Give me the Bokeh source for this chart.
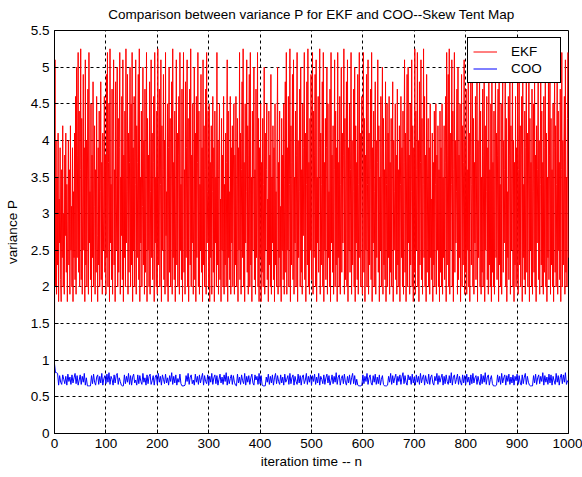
from bokeh.plotting import figure
from bokeh.models import (Range1d, FixedTicker, NumeralTickFormatter, Legend, LegendItem)
from bokeh.embed import file_html
from bokeh.resources import INLINE

# ---------------- data ----------------
# EKF variance, one value per iteration n = 0 .. 1000
ekf_values = [
    1.2, 5.1, 2.0, 4.0, 1.9, 3.5, 2.3, 4.1, 1.8, 3.2, 2.6, 3.9, 2.1, 1.8, 3.6, 2.4, 4.2, 2.0, 3.0, 1.9, 3.8, 2.7, 4.1, 2.2, 3.4, 1.8, 2.9, 4.0, 2.3, 3.6, 1.9, 4.2, 2.5, 3.1, 2.0, 3.9, 1.8, 3.3, 2.4, 4.1, 2.1, 4.6, 1.9, 5.0, 2.4, 3.8, 5.2, 2.2, 4.4, 2.0,
    3.6, 5.25, 2.1, 4.3, 1.9, 3.2, 4.9, 2.5, 3.9, 1.8, 5.1, 2.3, 4.0, 2.0, 3.5, 4.7, 1.9, 5.2, 2.6, 3.3, 2.1, 4.5, 1.8, 3.8, 2.4, 4.8, 2.0, 3.1, 4.2, 1.9, 3.6, 2.2, 4.6, 2.7, 1.8, 3.9, 2.3, 4.4, 2.0, 3.3, 4.8, 2.1, 3.7, 1.9, 4.1, 2.5, 3.0, 4.6, 2.2, 3.8,
    1.9, 4.9, 2.4, 5.2, 2.0, 3.7, 4.5, 1.8, 5.25, 2.6, 3.4, 2.1, 4.7, 1.9, 4.0, 5.1, 2.3, 3.6, 1.8, 4.8, 2.5, 3.2, 5.0, 2.0, 4.3, 2.2, 3.9, 5.2, 1.9, 3.5, 2.7, 4.6, 2.1, 5.1, 1.8, 3.8, 2.4, 4.4, 2.0, 5.25, 2.6, 3.3, 4.9, 1.9, 4.1, 2.2, 3.7, 5.0, 2.0, 4.5,
    2.3, 5.2, 1.8, 3.9, 2.5, 4.6, 2.0, 3.4, 5.1, 1.9, 4.2, 2.4, 3.7, 4.9, 2.1, 5.25, 1.8, 3.5, 2.6, 4.4, 2.0, 3.1, 5.0, 2.3, 4.0, 1.9, 4.7, 2.2, 3.6, 5.2, 1.8, 4.3, 2.5, 3.8, 2.0, 4.8, 1.9, 3.3, 5.1, 2.4, 4.1, 2.1, 3.7, 4.6, 1.8, 5.2, 2.6, 3.5, 2.0, 4.4,
    1.9, 5.25, 2.3, 3.8, 4.7, 2.0, 3.4, 5.1, 1.8, 4.2, 2.5, 3.6, 4.9, 2.1, 4.0, 1.9, 5.2, 2.7, 3.3, 2.0, 4.5, 1.8, 3.9, 5.0, 2.2, 4.3, 2.0, 3.5, 4.8, 1.9, 5.25, 2.4, 3.7, 2.1, 4.4, 1.8, 3.2, 5.1, 2.3, 4.1, 2.0, 3.8, 4.6, 1.9, 5.2, 2.5, 3.4, 2.1, 4.7, 1.8,
    4.0, 5.2, 2.2, 3.6, 1.9, 4.8, 2.4, 3.9, 5.1, 2.0, 4.3, 1.8, 3.5, 4.7, 2.3, 5.25, 2.0, 3.8, 2.6, 4.5, 1.9, 3.2, 5.0, 2.1, 4.1, 1.8, 4.6, 2.4, 3.7, 5.2, 2.0, 4.4, 1.9, 3.4, 2.5, 4.9, 2.2, 3.9, 1.8, 5.1, 2.3, 4.2, 2.0, 3.6, 4.7, 1.9, 5.2, 2.6, 3.3, 4.4,
    2.0, 4.5, 1.8, 3.7, 2.4, 4.2, 1.9, 3.3, 4.6, 2.2, 3.9, 1.8, 4.4, 2.6, 3.5, 2.0, 5.2, 2.3, 4.0, 1.9, 3.6, 4.5, 2.1, 3.2, 1.8, 4.3, 2.5, 3.8, 2.0, 4.6, 1.9, 3.4, 2.3, 4.1, 2.0, 3.7, 5.1, 1.8, 4.4, 2.4, 3.3, 2.1, 4.6, 1.9, 3.9, 2.6, 4.2, 2.0, 3.5, 4.5,
    1.9, 3.8, 2.3, 4.6, 2.0, 3.4, 4.3, 1.8, 3.9, 2.5, 5.2, 2.1, 4.1, 1.9, 3.6, 4.8, 2.4, 5.25, 2.0, 3.7, 1.8, 4.5, 2.6, 3.3, 5.1, 2.2, 4.2, 1.9, 3.8, 4.9, 2.0, 5.2, 2.3, 3.5, 1.8, 4.4, 2.5, 4.0, 5.0, 2.1, 3.6, 1.9, 4.7, 2.4, 3.2, 5.2, 2.0, 4.3, 1.8, 3.9,
    2.4, 4.5, 1.8, 3.7, 2.2, 4.3, 2.0, 3.4, 5.0, 1.9, 4.1, 2.5, 3.6, 4.5, 2.1, 3.2, 1.8, 4.4, 2.3, 3.8, 2.0, 4.9, 1.9, 3.5, 2.6, 4.2, 2.1, 3.9, 1.8, 4.5, 2.3, 3.3, 2.0, 4.0, 5.0, 1.9, 3.7, 2.4, 4.4, 2.0, 3.1, 1.8, 4.3, 2.5, 3.8, 2.1, 4.5, 1.9, 3.5, 4.8,
    2.2, 5.2, 1.9, 3.9, 2.5, 4.6, 2.0, 3.4, 5.25, 1.8, 4.2, 2.3, 3.7, 4.9, 2.1, 5.1, 1.9, 3.5, 2.6, 4.4, 2.0, 3.8, 5.2, 1.8, 4.0, 2.4, 3.3, 4.7, 2.0, 5.0, 2.2, 3.6, 1.9, 4.5, 2.7, 3.9, 5.2, 2.1, 4.1, 1.8, 3.4, 4.8, 2.3, 5.25, 2.0, 3.7, 1.9, 4.3, 2.5, 4.9,
    2.1, 3.6, 5.2, 1.9, 4.4, 2.4, 3.8, 4.9, 2.0, 5.1, 1.8, 3.5, 2.6, 4.6, 2.2, 3.9, 5.25, 1.9, 4.1, 2.3, 3.4, 4.8, 2.0, 5.2, 1.8, 3.7, 2.5, 4.3, 2.1, 3.9, 5.0, 1.9, 4.5, 2.4, 3.3, 2.0, 4.7, 1.8, 5.2, 2.6, 3.8, 2.2, 4.2, 1.9, 3.6, 5.1, 2.0, 4.4, 2.3, 3.9,
    1.8, 5.2, 2.4, 3.7, 2.0, 4.6, 1.9, 3.4, 5.0, 2.2, 4.1, 2.6, 3.8, 5.25, 1.9, 4.3, 2.1, 3.5, 4.8, 2.0, 5.1, 1.8, 3.9, 2.5, 4.5, 2.2, 3.6, 5.2, 1.9, 4.0, 2.3, 3.3, 4.7, 2.0, 5.0, 1.8, 4.2, 2.6, 3.7, 2.1, 4.9, 1.9, 3.4, 5.2, 2.4, 4.1, 2.0, 3.8, 4.6, 1.9,
    3.5, 5.2, 2.2, 4.3, 1.8, 3.8, 2.5, 4.9, 2.0, 3.4, 5.1, 1.9, 4.1, 2.3, 3.6, 4.7, 2.1, 5.2, 1.8, 3.9, 2.6, 4.4, 2.0, 3.3, 4.8, 1.9, 4.0, 2.4, 3.7, 5.1, 2.2, 4.2, 1.8, 3.5, 2.5, 4.6, 2.0, 3.9, 5.0, 1.9, 4.3, 2.3, 3.6, 2.1, 4.8, 1.8, 3.4, 4.5, 2.0, 4.1,
    2.4, 4.6, 1.9, 3.7, 2.2, 4.3, 2.0, 3.5, 4.8, 1.8, 4.0, 2.5, 3.3, 4.5, 2.1, 3.8, 1.9, 4.7, 2.3, 3.6, 2.0, 4.2, 1.8, 3.4, 4.6, 2.4, 3.9, 2.0, 4.4, 1.9, 3.7, 5.1, 2.2, 4.1, 1.8, 3.5, 4.9, 2.0, 5.0, 2.6, 3.8, 1.9, 4.5, 2.3, 3.3, 5.1, 2.0, 4.2, 1.8, 3.9,
    2.2, 5.25, 1.9, 4.4, 2.5, 3.6, 5.2, 2.0, 4.0, 1.8, 4.8, 2.3, 3.7, 5.1, 2.1, 4.3, 1.9, 3.4, 5.25, 2.4, 4.6, 2.0, 3.8, 1.8, 4.9, 2.2, 3.5, 4.3, 2.0, 3.9, 1.9, 4.5, 2.4, 3.2, 2.1, 4.1, 1.8, 3.7, 2.3, 4.4, 2.0, 3.4, 4.5, 1.9, 3.8, 2.5, 4.2, 2.0, 3.6, 1.8,
    4.4, 2.2, 3.9, 2.0, 4.5, 1.9, 3.5, 2.4, 4.2, 2.1, 3.7, 4.6, 1.8, 5.2, 2.3, 3.8, 4.9, 2.0, 5.25, 1.9, 4.1, 2.5, 3.4, 5.1, 2.0, 4.4, 1.8, 3.6, 5.2, 2.2, 4.0, 2.6, 3.3, 4.7, 1.9, 5.0, 2.1, 3.8, 2.4, 4.5, 1.8, 3.5, 4.9, 2.0, 4.2, 2.3, 3.7, 5.1, 1.9, 4.0,
    2.2, 4.7, 1.9, 3.6, 2.5, 5.0, 2.0, 4.1, 1.8, 3.8, 4.8, 2.3, 3.4, 5.1, 2.0, 4.3, 1.9, 3.7, 2.6, 4.6, 2.1, 3.2, 4.9, 1.8, 4.0, 2.4, 3.9, 5.0, 2.0, 4.4, 1.9, 3.5, 2.2, 4.7, 2.0, 3.8, 5.1, 1.8, 4.2, 2.5, 3.3, 4.6, 2.1, 3.9, 1.9, 4.8, 2.3, 3.6, 2.0, 4.5,
    1.8, 4.9, 2.2, 3.7, 2.0, 4.4, 1.9, 3.5, 5.0, 2.4, 4.1, 2.1, 3.8, 4.7, 1.8, 5.1, 2.3, 3.4, 2.0, 4.5, 1.9, 3.9, 4.8, 2.2, 4.0, 2.6, 3.6, 5.0, 2.0, 4.3, 1.8, 3.3, 2.4, 4.6, 2.1, 3.8, 4.9, 1.9, 4.2, 2.5, 3.5, 5.1, 2.0, 4.0, 1.8, 3.7, 2.3, 4.6, 2.0, 3.9,
    2.1, 4.8, 1.9, 3.6, 5.1, 2.3, 4.2, 2.0, 3.8, 4.6, 1.8, 5.0, 2.4, 3.4, 2.1, 4.4, 1.9, 3.9, 4.9, 2.2, 4.1, 2.0, 3.5, 5.1, 1.8, 4.3, 2.5, 3.7, 2.0, 4.7, 1.9, 3.3, 4.5, 2.2, 5.0, 2.0, 3.8, 1.8, 4.2, 2.6, 3.6, 4.8, 2.1, 4.0, 1.9, 3.4, 5.0, 2.3, 4.4, 2.0,
    3.7, 1.9, 4.6, 2.2, 3.9, 5.0, 2.0, 4.1, 1.8, 3.5, 2.4, 4.8, 2.1, 3.8, 5.1, 1.9, 4.3, 2.3, 3.6, 2.0, 4.5, 1.8, 3.9, 4.9, 2.2, 4.2, 2.0, 3.4, 5.0, 1.9, 4.4, 2.5, 3.7, 2.1, 4.7, 1.8, 3.6, 5.2, 2.0, 4.0, 2.3, 3.8, 4.6, 1.9, 5.1, 2.2, 3.5, 2.0, 4.3, 5.2, 2.4,
]
ekf_n = list(range(len(ekf_values)))

# COO variance, one value every 2 iterations
coo_values = [
    0.95, 0.83, 0.83, 0.82, 0.66, 0.79, 0.70, 0.67, 0.80, 0.74, 0.68, 0.78, 0.66, 0.81, 0.71, 0.77, 0.67, 0.80, 0.69, 0.76, 0.82, 0.68, 0.79, 0.66, 0.73, 0.80, 0.67, 0.78, 0.70, 0.82, 0.66, 0.76, 0.65, 0.65, 0.65, 0.65, 0.79, 0.68, 0.81, 0.70, 0.66, 0.77, 0.80, 0.67, 0.78, 0.69, 0.82, 0.66, 0.75, 0.79,
    0.68, 0.81, 0.70, 0.83, 0.67, 0.78, 0.74, 0.66, 0.80, 0.69, 0.79, 0.82, 0.67, 0.76, 0.71, 0.66, 0.65, 0.65, 0.80, 0.68, 0.78, 0.70, 0.82, 0.67, 0.79, 0.66, 0.77, 0.81, 0.69, 0.73, 0.66, 0.80, 0.68, 0.79, 0.71, 0.67, 0.82, 0.70, 0.76, 0.66, 0.80, 0.68, 0.78, 0.81, 0.67, 0.72, 0.79, 0.66, 0.77, 0.80,
    0.67, 0.82, 0.70, 0.78, 0.66, 0.80, 0.74, 0.68, 0.81, 0.69, 0.76, 0.66, 0.79, 0.71, 0.83, 0.67, 0.78, 0.69, 0.80, 0.66, 0.75, 0.70, 0.81, 0.68, 0.65, 0.65, 0.65, 0.66, 0.79, 0.71, 0.82, 0.67, 0.77, 0.80, 0.68, 0.73, 0.66, 0.81, 0.70, 0.78, 0.67, 0.80, 0.69, 0.76, 0.82, 0.66, 0.79, 0.71, 0.68, 0.80,
    0.66, 0.78, 0.70, 0.82, 0.67, 0.76, 0.80, 0.68, 0.79, 0.66, 0.74, 0.81, 0.69, 0.77, 0.67, 0.80, 0.71, 0.83, 0.66, 0.78, 0.68, 0.75, 0.80, 0.67, 0.79, 0.70, 0.66, 0.65, 0.81, 0.69, 0.77, 0.67, 0.80, 0.72, 0.68, 0.82, 0.66, 0.78, 0.70, 0.79, 0.67, 0.76, 0.81, 0.69, 0.66, 0.80, 0.73, 0.78, 0.67, 0.82,
    0.68, 0.79, 0.66, 0.65, 0.65, 0.65, 0.77, 0.70, 0.81, 0.67, 0.78, 0.69, 0.80, 0.66, 0.76, 0.82, 0.68, 0.79, 0.71, 0.67, 0.80, 0.69, 0.77, 0.66, 0.81, 0.70, 0.74, 0.79, 0.67, 0.82, 0.68, 0.76, 0.80, 0.66, 0.78, 0.71, 0.67, 0.81, 0.69, 0.79, 0.66, 0.77, 0.80, 0.68, 0.73, 0.82, 0.67, 0.78, 0.70, 0.80,
    0.66, 0.79, 0.71, 0.81, 0.67, 0.77, 0.69, 0.82, 0.66, 0.78, 0.74, 0.68, 0.80, 0.67, 0.76, 0.81, 0.69, 0.79, 0.66, 0.72, 0.80, 0.68, 0.78, 0.70, 0.83, 0.67, 0.77, 0.80, 0.66, 0.75, 0.79, 0.68, 0.81, 0.70, 0.66, 0.78, 0.69, 0.80, 0.67, 0.76, 0.82, 0.68, 0.79, 0.66, 0.74, 0.66, 0.65, 0.65, 0.65, 0.66,
    0.80, 0.68, 0.78, 0.71, 0.82, 0.67, 0.76, 0.80, 0.69, 0.66, 0.79, 0.70, 0.81, 0.67, 0.77, 0.68, 0.80, 0.66, 0.74, 0.79, 0.67, 0.65, 0.65, 0.65, 0.66, 0.78, 0.70, 0.82, 0.67, 0.79, 0.69, 0.76, 0.81, 0.66, 0.78, 0.71, 0.80, 0.67, 0.77, 0.83, 0.68, 0.79, 0.70, 0.66, 0.80, 0.73, 0.78, 0.67, 0.81, 0.69,
    0.77, 0.66, 0.80, 0.70, 0.78, 0.67, 0.82, 0.69, 0.76, 0.80, 0.66, 0.79, 0.71, 0.68, 0.81, 0.67, 0.77, 0.80, 0.69, 0.66, 0.78, 0.72, 0.82, 0.67, 0.79, 0.70, 0.76, 0.81, 0.66, 0.78, 0.68, 0.80, 0.71, 0.67, 0.79, 0.69, 0.83, 0.66, 0.77, 0.80, 0.68, 0.74, 0.81, 0.67, 0.78, 0.70, 0.66, 0.80, 0.69, 0.79,
    0.67, 0.81, 0.70, 0.77, 0.66, 0.80, 0.68, 0.82, 0.69, 0.76, 0.79, 0.67, 0.78, 0.71, 0.66, 0.81, 0.68, 0.79, 0.70, 0.83, 0.67, 0.77, 0.80, 0.66, 0.74, 0.79, 0.68, 0.65, 0.65, 0.65, 0.66, 0.80, 0.70, 0.78, 0.67, 0.82, 0.69, 0.76, 0.80, 0.66, 0.79, 0.71, 0.81, 0.67, 0.77, 0.69, 0.80, 0.66, 0.78, 0.72,
    0.81, 0.67, 0.79, 0.70, 0.66, 0.80, 0.68, 0.77, 0.82, 0.67, 0.78, 0.70, 0.66, 0.65, 0.65, 0.65, 0.79, 0.69, 0.81, 0.67, 0.76, 0.80, 0.68, 0.78, 0.71, 0.83, 0.66, 0.79, 0.70, 0.77, 0.67, 0.81, 0.69, 0.80, 0.66, 0.78, 0.72, 0.67, 0.82, 0.70, 0.79, 0.66, 0.77, 0.81, 0.68, 0.80, 0.70, 0.83, 0.67, 0.72, 0.70,
]
coo_step = 2
coo_n = [coo_step * i for i in range(len(coo_values))]

x_ticks = [0, 100, 200, 300, 400, 500, 600, 700, 800, 900, 1000]
y_ticks = [0, 0.5, 1, 1.5, 2, 2.5, 3, 3.5, 4, 4.5, 5, 5.5]

title_text = "Comparison between variance P for EKF and COO--Skew Tent Map"
x_label = "iteration time -- n"
y_label = "variance P"
series_names = ["EKF", "COO"]
series_colors = ["#ff0000", "#0000ff"]

FONT = "Liberation Sans"
FS = "13.5px"

# ---------------- figure ----------------
p = figure(width=582, height=477, output_backend="svg", toolbar_location=None,
           x_range=Range1d(0, 1000), y_range=Range1d(0, 5.5),
           min_border_left=54, min_border_right=14, min_border_top=30, min_border_bottom=44,
           background_fill_color="white", border_fill_color="white")

p.title.text = title_text
p.title.align = "center"
p.title.text_font = FONT
p.title.text_font_size = FS
p.title.text_font_style = "normal"
p.title.text_color = "black"
p.title.offset = 0
p.title.standoff = 6
p.title.padding = (0, 0, 0, 6)

p.outline_line_color = "black"
p.outline_line_width = 1
p.outline_line_alpha = 1

for ax, ticks in ((p.xaxis[0], x_ticks), (p.yaxis[0], y_ticks)):
    ax.ticker = FixedTicker(ticks=ticks)
    ax.major_label_text_font = FONT
    ax.major_label_text_font_size = FS
    ax.major_label_text_color = "black"
    ax.axis_label_text_font = FONT
    ax.axis_label_text_font_size = FS
    ax.axis_label_text_font_style = "normal"
    ax.axis_label_text_color = "black"
    ax.axis_line_color = "black"
    ax.major_tick_line_color = "black"
    ax.major_tick_in = 4
    ax.major_tick_out = 0
    ax.minor_tick_line_color = None

p.yaxis[0].formatter = NumeralTickFormatter(format="0.[0]")
p.xaxis[0].axis_label = x_label
p.yaxis[0].axis_label = y_label
p.xaxis[0].major_label_standoff = 5
p.xaxis[0].axis_label_standoff = 3
p.yaxis[0].major_label_standoff = 5
p.yaxis[0].axis_label_standoff = 8

for g, ticks in ((p.xgrid[0], x_ticks), (p.ygrid[0], y_ticks)):
    g.ticker = FixedTicker(ticks=ticks)
    g.grid_line_color = "black"
    g.grid_line_alpha = 1
    g.grid_line_width = 1
    g.grid_line_dash = "3 3"

r_ekf = p.line(ekf_n, ekf_values, line_color=series_colors[0], line_width=1)
r_coo = p.line(coo_n, coo_values, line_color=series_colors[1], line_width=1)

legend = Legend(items=[LegendItem(label=series_names[0], renderers=[r_ekf]),
                       LegendItem(label=series_names[1], renderers=[r_coo])],
                location="top_right")
legend.margin = 7
legend.padding = 5
legend.spacing = 0
legend.glyph_width = 24
legend.glyph_height = 17
legend.label_height = 17
legend.label_width = 44
legend.label_standoff = 14
legend.label_text_font = FONT
legend.label_text_font_size = FS
legend.label_text_color = "black"
legend.border_line_color = "black"
legend.border_line_width = 1
legend.border_line_alpha = 1
legend.background_fill_color = "white"
legend.background_fill_alpha = 1
p.add_layout(legend, "center")

open("out.html", "w").write(file_html(p, INLINE))
